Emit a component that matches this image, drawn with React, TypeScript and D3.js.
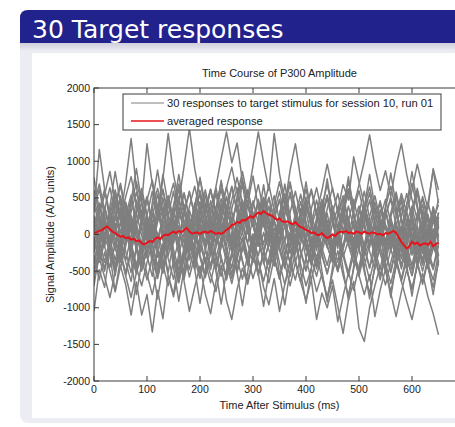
import React from 'react';
import * as d3 from 'd3';

// sampling of the traces (ms per sample)
const TRACE_STEP_MS = 10;
const AVG_STEP_MS = 5;

const xTicks = [0, 100, 200, 300, 400, 500, 600, 700];
const yTicks = [-2000, -1500, -1000, -500, 0, 500, 1000, 1500, 2000];

// 30 single target responses, 0..650 ms
const trace01 = [300, 1160, 620, 180, 450, -120, 260, 540, 90, -250, 110, 380, -60, 220, 500, 140, -180, 310, 60, -220, 150, 420, 80, -140, 260, 520, 190, -90, 340, 610, 280, 30, 450, 160, -200, 90, 380, 120, -260, 70, 310, -40, -330, 20, 290, -110, -380, 60, 240, -150, 180, 420, 90, -230, 130, 350, -40, -290, 80, -180, -420, -90, 210, -160, -60, 140];
const trace02 = [-1050, -480, -720, -210, -560, -90, -380, -640, -170, -420, -260, 60, -310, -150, -520, -80, 120, -240, -480, -130, 90, -200, -420, -100, 150, -190, -460, -50, 210, -130, -380, 40, 260, -90, -350, 30, 180, -240, -60, 250, -160, -410, -20, 190, -150, -380, 10, 230, -120, -300, 80, -190, -460, -70, 160, -230, -500, -140, 90, -280, -560, -210, -30, -400, -620, -270];
const trace03 = [200, -150, 380, 90, 560, 240, 720, 1310, 640, 280, 520, 130, 410, -80, 260, 590, 180, -120, 330, 80, -250, 140, 460, 120, -90, 280, 650, 310, 60, 420, 800, 360, 110, 390, -30, 250, 540, 170, -140, 230, 470, 100, -180, 210, 500, 150, -110, 240, 620, 260, -50, 300, 570, 190, -90, 280, 480, 120, -210, 160, 390, 30, -260, 90, 330, -20];
const trace04 = [-300, -620, -240, -500, -780, -430, -690, -1100, -650, -1100, -820, -1330, -760, -1150, -560, -820, -340, -610, -250, -480, -130, -390, -200, -470, -90, -310, -600, -280, -40, -350, -120, 90, -230, -410, -80, 130, -190, -360, -20, 200, -140, -300, 40, -180, -420, -110, 60, -250, -520, -180, 30, -290, -90, 140, -200, -370, -60, 170, -130, -340, -560, -220, 10, -290, -480, -150];
const trace05 = [500, 180, -100, 320, 610, 270, -40, 390, 720, 430, 1240, 680, 310, 820, 400, 90, 460, 190, -150, 280, 560, 230, -60, 300, 620, 240, -130, 180, 470, 120, -190, 230, 510, 180, -120, 290, 540, 210, -80, 350, 130, -210, 190, 420, 110, -160, 260, 480, 160, -130, 300, 590, 220, -70, 340, 90, -240, 120, 380, 40, -280, 150, 410, 70, -190, 230];
const trace06 = [-120, 240, -60, 330, 110, -210, 170, 480, 150, -140, 260, 590, 230, 760, 1380, 820, 450, 930, 1450, 900, 520, 260, 610, 300, -20, 340, 120, -180, 260, 590, 200, -90, 310, 50, -230, 180, 420, 70, -200, 240, 510, 160, -120, 280, -40, -310, 90, 350, 40, -260, 130, 400, 100, -210, 170, -100, 230, -60, -330, 50, 290, -70, -350, 20, 260, -90];
const trace07 = [100, -220, -500, -180, 150, -270, -560, -230, 60, -340, -620, -300, 20, -410, -700, -360, -80, -640, -1050, -720, -430, -810, -1080, -650, -320, -580, -240, -490, -150, -380, -60, -290, 30, -210, -430, -100, 120, -260, -40, 200, -180, -420, -90, 150, -160, -370, 20, 210, -140, -390, -60, 180, -230, -470, -110, 130, -200, -450, -80, 190, -170, -410, -40, 220, -150, -380];
const trace08 = [350, 620, 240, -80, 410, 700, 320, 60, 470, 180, -90, 240, 550, 190, -110, 280, 620, 330, 60, 390, 760, 420, 90, 650, 1040, 1400, 980, 1250, 730, 420, 160, 480, 200, -60, 310, 590, 220, -90, 260, 550, 170, -140, 230, 480, 150, -130, 280, 530, 200, -90, 330, 120, -180, 210, 460, 120, -150, 240, 500, 170, -110, 300, 80, -200, 190, 410];
const trace09 = [-540, -200, -460, -130, 140, -250, -520, -190, -450, -700, -380, -120, -430, -160, 110, -300, -570, -260, -10, -340, -600, -310, -550, -780, -420, -900, -1160, -750, -460, -680, -330, -70, -370, -140, 90, -220, -460, -150, 80, -250, -500, -200, 40, -290, -530, -240, 20, -310, -80, 170, -210, -450, -120, 100, -260, -500, -200, 60, -230, -470, -140, 110, -190, -420, -110, 130];
const trace10 = [80, 380, 120, -160, 210, 480, 170, -110, 290, 560, 230, -50, 330, 90, -190, 240, 510, 150, -100, 280, 600, 270, 20, 360, 710, 350, 80, 520, 860, 500, 940, 1400, 980, 600, 1380, 830, 450, 720, 320, 50, 380, 140, -120, 260, 540, 190, -80, 300, 620, 250, -40, 370, 140, -160, 230, 480, 160, -110, 260, 560, 210, -70, 330, 90, -200, 180];
const trace11 = [-200, 130, -160, -450, -120, 170, -240, -520, -180, 110, -290, -570, -230, 60, -330, -610, -270, 20, -350, -90, 150, -220, -480, -180, 90, -260, -540, -210, 40, -300, -600, -350, -720, -960, -600, -1050, -680, -380, -620, -290, -40, -330, -570, -240, 30, -280, -500, -170, 110, -230, -490, -150, 140, -210, -470, -130, 160, -190, -440, -100, 190, -160, -400, -80, 210, -120];
const trace12 = [420, 110, -170, 260, 540, 200, -100, 310, 580, 240, -40, 360, 630, 280, -20, 400, 690, 340, 50, 430, 160, -110, 270, 560, 210, -80, 350, 640, 290, 10, 380, 680, 320, 40, 410, 720, 390, 880, 1240, 760, 430, 150, 470, 180, -90, 290, 560, 210, -60, 330, 600, 260, -20, 370, 110, -170, 240, 520, 180, -100, 290, 560, 220, -60, 340, 90];
const trace13 = [-80, -380, -110, 200, -170, -460, -150, 160, -220, -500, -200, 120, -240, -530, -190, 100, -280, -570, -230, 70, -310, -590, -250, 60, -330, -620, -280, 30, -350, -650, -300, 10, -370, -660, -320, -30, -400, -700, -380, -650, -900, -620, -1160, -800, -1000, -700, -1190, -840, -520, -760, -430, -160, -450, -210, 80, -260, -520, -190, 110, -230, -480, -150, 150, -200, -450, -120];
const trace14 = [150, -170, 220, -60, -350, -40, 260, -110, -420, -100, 180, -140, -450, -130, 170, -200, -490, -180, 120, -250, -540, -220, 80, -290, -570, -260, 40, -330, -610, -290, 10, -360, -640, -320, -20, -390, -680, -360, -50, -410, -700, -460, -780, -540, -860, -620, -980, -1350, -900, -640, -1280, -1460, -1000, -700, -430, -690, -380, -90, -420, -160, 110, -240, -500, -200, 80, -290];
const trace15 = [-250, 90, 380, 60, -220, 170, 440, 120, -170, 210, 490, 160, -130, 250, 530, 200, -90, 310, 590, 250, -40, 350, 620, 290, 10, 380, 660, 320, 40, 410, 120, -160, 240, 510, 190, -100, 290, 580, 250, -60, 350, 620, 300, 600, 960, 620, 330, 680, 470, 1060, 720, 400, 110, 440, 180, -120, 260, 540, 200, -80, 310, 600, 250, -30, 370, 100];
const trace16 = [40, 330, 620, 280, -10, 370, 90, -200, 160, 440, 120, -160, 230, 500, 170, -110, 280, 560, 230, -60, 320, 610, 270, -20, 360, 650, 310, 30, 400, 110, -180, 220, 500, 180, -120, 280, 560, 220, -80, 330, 620, 280, 10, 380, 680, 340, 60, 420, 720, 380, 680, 1000, 1360, 930, 600, 870, 520, 930, 1240, 820, 480, 200, 520, 240, -60, 300];
const trace17 = [-410, -100, 180, -190, -470, -160, 130, -240, -520, -210, 70, -290, -580, -250, 30, -340, -620, -300, -10, -380, -90, 190, -180, -460, -140, 150, -220, -500, -190, 100, -270, -540, -240, 50, -320, -600, -280, 10, -370, -650, -330, -40, -420, -130, 160, -210, -500, -180, 100, -270, -560, -820, -550, -1120, -760, -470, -800, -1120, -780, -480, -740, -430, -150, -460, -190, 90];
const trace18 = [260, -30, 350, 640, 300, 20, 390, 100, -190, 200, 480, 150, -140, 240, 520, 190, -100, 290, 580, 240, -50, 340, 610, 270, -10, 370, 80, -210, 180, 460, 130, -160, 230, 500, 170, -120, 270, 550, 210, -80, 320, 600, 260, -30, 350, 640, 300, 10, 390, 90, -200, 190, 470, 140, -150, 240, 510, 260, 560, 300, 600, 960, 640, 350, 900, 610];
const trace19 = [-30, -330, -40, 260, -80, -380, -90, 220, -140, -430, -130, 180, -190, -480, -170, 130, -240, -520, -210, 90, -280, -560, -250, 50, -320, -600, -280, 10, -370, -640, -330, -20, -400, -110, 200, -160, -440, -120, 170, -210, -490, -170, 120, -250, -540, -220, 80, -290, -570, -260, 40, -330, -620, -300, -20, -390, -670, -350, -640, -910, -1160, -820, -530, -850, -1080, -1370];
const trace20 = [610, 280, 540, 860, 450, 180, 520, 790, 410, 130, 470, 740, 390, 90, 430, 700, 340, 30, 380, 660, 320, 10, 360, 640, 300, 640, 920, 560, 250, 580, 290, 20, 370, 680, 330, 60, 400, 690, 360, 80, 430, 140, -140, 250, 530, 200, -70, 310, 600, 260, -30, 380, 650, 290, 10, 370, 660, 310, 40, 400, 700, 350, 70, 440, 150, 480];
const trace21 = [-620, -320, -580, -860, -510, -240, -570, -860, -520, -210, -540, -820, -480, -200, -560, -850, -520, -230, -580, -290, -30, -380, -660, -320, -40, -390, -670, -340, -60, -420, -130, 150, -220, -510, -190, 80, -290, -570, -240, 40, -330, -620, -300, -580, -860, -520, -220, -560, -830, -470, -180, -510, -800, -460, -160, -500, -780, -440, -150, -480, -750, -410, -110, -450, -720, -380];
const trace22 = [120, 430, 150, -140, 250, 530, 180, -120, 290, 570, 240, -60, 320, 620, 280, -20, 370, 80, -210, 170, 450, 120, -180, 210, 490, 160, 470, 780, 430, 120, 460, 150, -140, 240, 530, 190, -100, 300, 590, 250, -50, 350, 640, 300, 0, 390, 100, -190, 190, 480, 140, -160, 240, 530, 190, -110, 290, 580, 230, -60, 340, 630, 280, -20, 380, 90];
const trace23 = [-350, -60, 230, -120, -420, -100, 200, -180, -470, -160, 150, -230, -530, -210, 90, -300, -580, -260, 50, -350, -80, 210, -160, -450, -140, 180, -210, -490, -180, 120, -260, -530, -240, 80, -300, -590, -270, 30, -360, -640, -320, -30, -400, -110, 190, -190, -470, -150, 160, -240, -530, -210, 110, -280, -560, -250, 60, -320, -610, -280, 20, -370, -650, -320, 0, -380];
const trace24 = [780, 320, -140, 380, 860, 420, -60, 460, 900, 430, -80, 440, 880, 400, -120, 360, 820, 350, -150, 330, 780, 300, -200, 290, 740, 260, -230, 250, 700, 220, -260, 210, 680, 200, -280, 220, 690, 240, -260, 260, 720, 270, -220, 300, 760, 300, -190, 330, 790, 330, -160, 360, 820, 360, -130, 380, 840, 390, -110, 400, 860, 410, -90, 420, 880, 430];
const trace25 = [-700, -230, 250, -280, -780, -320, 180, -350, -820, -380, 120, -420, -880, -430, 70, -450, -910, -460, 40, -470, -940, -480, 20, -500, -950, -490, 0, -520, -970, -510, -20, -530, -980, -510, -40, -540, -960, -490, -10, -520, -940, -470, 10, -500, -920, -450, 30, -480, -900, -430, 50, -460, -880, -410, 70, -440, -860, -390, 90, -420, -840, -370, 110, -400, -820, -350];
const trace26 = [420, 690, 330, 50, 380, 660, 300, 20, 350, 630, 270, -10, 320, 600, 240, -40, 290, 570, 210, -70, 260, 540, 180, -100, 230, 510, 150, 440, 760, 400, 110, 430, 140, -150, 200, 480, 120, -180, 170, 450, 90, -210, 140, 420, 60, -240, 110, 390, 30, -270, 80, 360, 0, -300, 50, 330, -30, -330, 20, 300, -60, -360, -10, 270, -90, 240];
const trace27 = [-480, -190, 110, -230, -510, -170, 140, -260, -540, -220, 60, -330, -600, -280, 20, -370, -660, -340, -60, -400, -110, 170, -210, -500, -170, 130, -240, -520, -200, 90, -280, -560, -250, 40, -330, -610, -290, 0, -380, -120, 170, -190, -470, -160, 130, -230, -510, -200, 90, -290, -570, -250, 50, -330, -620, -290, 10, -370, -640, -330, -30, -400, -680, -360, -70, -420];
const trace28 = [60, 260, -40, -230, 90, 290, 0, -200, 130, 330, 40, -160, 170, 370, 90, -120, 210, 410, 130, -90, 240, 20, -250, 80, 300, 10, -220, 110, 330, 40, -190, 150, 370, 80, -160, 190, 410, 120, -130, 230, 450, 160, -100, 260, -20, -290, 50, 270, -30, -260, 80, 300, 10, -230, 110, 330, 40, -230, 90, 300, 0, -260, 60, 270, -30, -290];
const trace29 = [-90, -300, 20, 230, -60, -280, 50, 260, -30, -250, 80, 290, -10, -220, 110, 320, 20, -190, 140, 350, 50, -160, 170, 380, 80, -150, 200, 410, 110, -120, 230, 440, 140, -90, 260, 470, 170, -60, 290, 30, -210, 120, 330, 40, -180, 150, 360, 70, -150, 180, 390, 100, -120, 210, 420, 130, -100, 240, 450, 160, -70, 270, 480, 190, -40, 300];
const trace30 = [240, -90, -380, -60, 260, -40, -350, -20, 290, -10, -320, 10, 320, 30, -290, 50, 360, 60, -260, 80, 390, 100, -230, 110, 420, 130, -190, 160, 460, 180, -150, 200, 500, 210, -120, 230, -90, -400, -70, 260, -40, -360, -10, 290, 20, -330, 40, 350, 70, -290, 100, 390, 120, -250, 140, -190, 160, -160, -470, -140, 190, -110, -420, -80, 230, -50];

const responses = [
  trace01, trace02, trace03, trace04, trace05, trace06, trace07, trace08, trace09, trace10,
  trace11, trace12, trace13, trace14, trace15, trace16, trace17, trace18, trace19, trace20,
  trace21, trace22, trace23, trace24, trace25, trace26, trace27, trace28, trace29, trace30,
];

// averaged response, 0..650 ms every 5 ms
const averagedResponse = [20, 30, 50, 60, 90, 110, 70, 40, 20, -10, -30, -20, -50, -40, -70, -60, -90, -80, -120, -135, -110, -90, -100, -60, -40, -60, -20, 0, -10, 20, 40, 20, 50, 30, 60, 90, 40, 10, 20, 30, 10, 30, 40, 20, 50, 30, 10, 20, 10, 30, 60, 90, 130, 140, 170, 160, 200, 190, 220, 250, 230, 270, 300, 280, 320, 290, 270, 260, 230, 200, 220, 180, 170, 180, 160, 140, 170, 130, 100, 90, 60, 50, 20, 30, 0, -10, 20, -20, -50, -30, 0, -20, 20, 40, 30, 50, 20, 30, 10, 40, 30, 10, 40, 20, 10, 30, 20, 0, 10, -10, 20, 10, 30, 50, 20, -40, -100, -150, -190, -160, -100, -130, -110, -150, -130, -120, -140, -100, -160, -130, -110];

const FONT = '"Liberation Sans", Arial, Helvetica, sans-serif';

export default function App() {
  const W = 455;
  const H = 427;
  const plot = { left: 94, right: 465, top: 88, bottom: 381 };

  const x = d3.scaleLinear().domain([0, 700]).range([plot.left, plot.right]);
  const y = d3.scaleLinear().domain([-2000, 2000]).range([plot.bottom, plot.top]);

  const traceLine = d3.line<number>()
    .x((_, i) => x(i * TRACE_STEP_MS))
    .y(d => y(d));
  const avgLine = d3.line<number>()
    .x((_, i) => x(i * AVG_STEP_MS))
    .y(d => y(d));

  const tickLen = 5;
  const axisColor = '#3a3a3a';

  return (
    <svg width={W} height={H} style={{ position: 'absolute', left: 0, top: 0, background: '#fff' }}>
      <defs>
        <linearGradient id="shade" x1="0" y1="0" x2="0" y2="1">
          <stop offset="0%" stopColor="#cfcfdc" />
          <stop offset="100%" stopColor="#ececf3" />
        </linearGradient>
        <clipPath id="plotClip">
          <rect x={plot.left} y={plot.top} width={plot.right - plot.left} height={plot.bottom - plot.top} />
        </clipPath>
      </defs>

      {/* slide panel */}
      <rect x={20} y={30} width={450} height={393} rx={8} fill="#ececf3" />
      <rect x={20} y={43} width={440} height={8} fill="url(#shade)" />
      <path d="M20,43 V18 Q20,10 28,10 H460 V43 Z" fill="#22228c" />
      <text x={32} y={38} fill="#fff" fontFamily='"DejaVu Sans", sans-serif' fontSize={25}>30 Target responses</text>

      {/* figure background */}
      <rect x={32} y={53} width={430} height={365} fill="#fff" />

      {/* traces */}
      <g clipPath="url(#plotClip)">
        {responses.map((r, k) => (
          <path key={k} d={traceLine(r) || ''} fill="none" stroke="#7f7f7f" strokeWidth={1.5} strokeLinejoin="round" />
        ))}
        <path d={avgLine(averagedResponse) || ''} fill="none" stroke="#e8141c" strokeWidth={2} />
      </g>

      {/* axes box */}
      <rect x={plot.left} y={plot.top} width={plot.right - plot.left} height={plot.bottom - plot.top}
        fill="none" stroke={axisColor} strokeWidth={1} />
      {xTicks.map(t => (
        <g key={'x' + t}>
          <line x1={x(t)} x2={x(t)} y1={plot.bottom} y2={plot.bottom - tickLen} stroke={axisColor} />
          <line x1={x(t)} x2={x(t)} y1={plot.top} y2={plot.top + tickLen} stroke={axisColor} />
          <text x={x(t)} y={393} textAnchor="middle" fontFamily={FONT} fontSize={10.5} fill="#222">{t}</text>
        </g>
      ))}
      {yTicks.map(t => (
        <g key={'y' + t}>
          <line x1={plot.left} x2={plot.left + tickLen} y1={y(t)} y2={y(t)} stroke={axisColor} />
          <line x1={plot.right} x2={plot.right - tickLen} y1={y(t)} y2={y(t)} stroke={axisColor} />
          <text x={90} y={y(t) + 3.5} textAnchor="end" fontFamily={FONT} fontSize={10.5} fill="#222">{t}</text>
        </g>
      ))}

      <text x={(plot.left + plot.right) / 2} y={77} textAnchor="middle" fontFamily={FONT} fontSize={11} fill="#222">
        Time Course of P300 Amplitude
      </text>
      <text x={(plot.left + plot.right) / 2} y={409} textAnchor="middle" fontFamily={FONT} fontSize={11} fill="#222">
        Time After Stimulus (ms)
      </text>
      <text transform={`translate(54,${(plot.top + plot.bottom) / 2}) rotate(-90)`} textAnchor="middle"
        fontFamily={FONT} fontSize={11} fill="#222">
        Signal Amplitude (A/D units)
      </text>

      {/* legend */}
      <rect x={123} y={94} width={318} height={36} fill="#fff" stroke={axisColor} strokeWidth={1} />
      <line x1={131} x2={164} y1={103} y2={103} stroke="#7f7f7f" strokeWidth={1} />
      <text x={167} y={107} fontFamily={FONT} fontSize={11.2} fill="#222">30 responses to target stimulus for session 10, run 01</text>
      <line x1={131} x2={164} y1={121} y2={121} stroke="#e8141c" strokeWidth={1.5} />
      <text x={167} y={125} fontFamily={FONT} fontSize={11.2} fill="#222">averaged response</text>
    </svg>
  );
}
